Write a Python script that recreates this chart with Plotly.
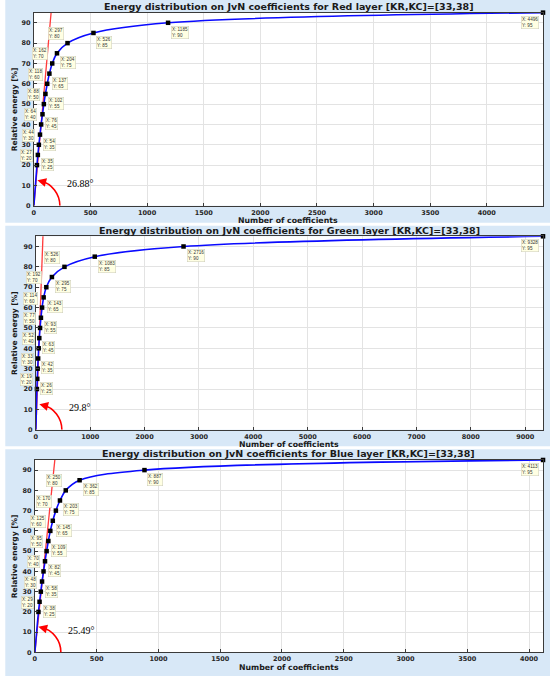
#imports
import plotly.graph_objects as go

#data: energy levels [%] with data tips, and number of coefficients per layer
energy=[0,20,25,30,35,40,45,50,55,60,65,70,75,80,85,90,95]
red_n=[0,27,35,44,54,64,76,88,102,118,137,162,204,297,526,1185,4496]
green_n=[0,19,26,33,42,52,63,77,93,114,143,192,295,526,1083,2716,9328]
blue_n=[0,29,38,48,58,70,82,95,109,125,145,170,203,250,362,887,4113]

#tangent lines through the origin
tan_y=[0,100]
red_tan_x=[0,160]
green_tan_x=[0,137]
blue_tan_x=[0,170]

layers=["Red","Green","Blue"]
angles=["26.88°","29.8°","25.49°"]
xdticks=[500,1000,500]

#panel geometry in pixels (top, bottom of plot area, left edge)
W,H=550,680
plots=[(12.7,207,32),(237.7,432.3,34),(462.7,656.3,33)]
panels=[(0,224),(227,449),(452,680)]
right=543

fig=go.Figure()
series=[red_n,green_n,blue_n]
tans=[red_tan_x,green_tan_x,blue_tan_x]
tickfont=dict(family="DejaVu Sans",size=6.5,color="#262626",weight="bold")

for i in range(3):
    xa="x" if i==0 else f"x{i+1}"
    ya="y" if i==0 else f"y{i+1}"
    n=series[i]
    top,bottom,left=plots[i]

    #panel background, white plot area on top of it
    fig.add_shape(type="rect",xref="paper",yref="paper",x0=0.006,x1=1,
                  y0=1-panels[i][1]/H,y1=1-panels[i][0]/H,
                  fillcolor="#d8e8f7",line_width=0,layer="below")
    fig.add_shape(type="rect",xref=f"{xa} domain",yref=f"{ya} domain",x0=0,x1=1,y0=0,y1=1,
                  fillcolor="white",line_width=0,layer="below")

    fig.add_trace(go.Scatter(x=tans[i],y=tan_y,mode="lines",xaxis=xa,yaxis=ya,
                             line=dict(color="#ff3b3b",width=1.3),showlegend=False))
    fig.add_trace(go.Scatter(x=n,y=energy,mode="lines",xaxis=xa,yaxis=ya,
                             line=dict(color="#0a0aff",width=1.6,shape="spline"),
                             showlegend=False))
    fig.add_trace(go.Scatter(x=n[1:],y=energy[1:],mode="markers",xaxis=xa,yaxis=ya,
                             marker=dict(symbol="square",size=4.5,color="black"),
                             showlegend=False,cliponaxis=False))

    #data tips
    for k in range(1,len(n)):
        if k==len(n)-1:
            xanc,yanc,xs,ys="right","top",-4,-3
        elif energy[k]%10==0 and energy[k]<90:
            xanc,yanc,xs,ys="right","bottom",-4,3
        else:
            xanc,yanc,xs,ys="left","top",3,-3
        fig.add_annotation(x=n[k],y=energy[k],xref=xa,yref=ya,
                           text=f"X: {n[k]}<br>Y: {energy[k]}",showarrow=False,
                           xanchor=xanc,yanchor=yanc,xshift=xs,yshift=ys,align="left",
                           font=dict(family="Liberation Sans",size=4.6,color="#333"),
                           bgcolor="#ffffe3",bordercolor="#c9c9b5",borderwidth=0.5,borderpad=0.5)

    #angle arc, arrow and label
    fig.add_shape(type="path",xref=xa,yref=ya,xsizemode="pixel",ysizemode="pixel",
                  xanchor=0,yanchor=0,path="M 26,0 C 26,11.8 18.1,22.1 6.7,25.1",
                  line=dict(color="red",width=1.6))
    fig.add_annotation(x=0,y=0,xref=xa,yref=ya,xshift=3.5,yshift=25.6,text="",
                       showarrow=True,ax=5,ay=1.3,arrowhead=2,arrowsize=1.1,
                       arrowwidth=1.6,arrowcolor="red",standoff=0)
    fig.add_annotation(x=0,y=0,xref=xa,yref=ya,xshift=31,yshift=22,text=angles[i],
                       showarrow=False,xanchor="left",yanchor="middle",
                       font=dict(family="Liberation Serif",size=10,color="black"))

    #titles
    xc=(left+right)/2/W
    fig.add_annotation(x=xc,y=1-(top-6.3)/H,xref="paper",yref="paper",
                       text=f"<b>Energy distribution on JvN coefficients for {layers[i]} layer [KR,KC]=[33,38]</b>",
                       showarrow=False,yanchor="middle",borderpad=0,
                       font=dict(family="DejaVu Sans",size=9.5,color="#1a1a1a"))
    fig.add_annotation(x=xc,y=1-(bottom+15)/H,xref="paper",yref="paper",
                       text="<b>Number of coefficients</b>",showarrow=False,yanchor="middle",
                       borderpad=0,font=dict(family="DejaVu Sans",size=7.8,color="#1a1a1a"))
    fig.add_annotation(x=12/W,y=1-(top+bottom)/2/H,xref="paper",yref="paper",
                       text="<b>Relative energy [%]</b>",showarrow=False,textangle=-90,
                       xanchor="center",yanchor="middle",
                       font=dict(family="DejaVu Sans",size=7.5,color="#1a1a1a"))

    axis=dict(showgrid=True,gridcolor="#e3e3e3",gridwidth=1,zeroline=False,
              showline=True,mirror=True,linecolor="#3a3a3a",linewidth=1,
              ticks="inside",ticklen=3,tickcolor="#3a3a3a",tickfont=tickfont)
    fig.layout[f"xaxis{'' if i==0 else i+1}"]=dict(axis,domain=[left/W,right/W],
        range=[0,n[-1]],dtick=xdticks[i],tick0=0,anchor=ya,ticklabelstandoff=0)
    fig.layout[f"yaxis{'' if i==0 else i+1}"]=dict(axis,domain=[1-bottom/H,1-top/H],
        range=[0,95],dtick=10,tick0=0,anchor=xa,ticklabelstandoff=1)

fig.update_layout(width=W,height=H,margin=dict(l=0,r=0,t=0,b=0),
                  paper_bgcolor="white",plot_bgcolor="white")
fig.write_html("out.html",config={"displayModeBar":False},
               post_script="document.body.style.margin='0';")
